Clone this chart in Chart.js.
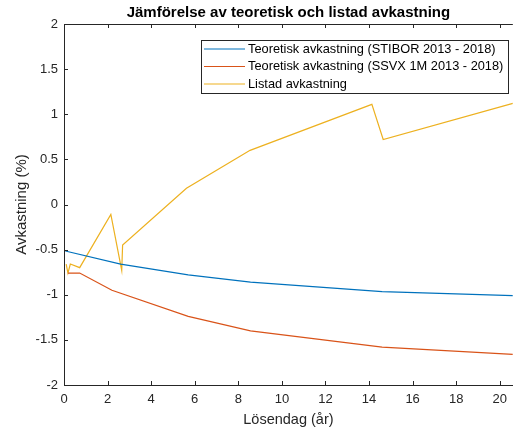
<!DOCTYPE html>
<html>
<head>
<meta charset="utf-8">
<script src="https://cdn.jsdelivr.net/npm/chart.js@4"></script>
<style>
  html, body { margin: 0; padding: 0; background: #fff; }
  #wrap { width: 514px; height: 431px; }
</style>
</head>
<body>
<div id="wrap"><canvas id="chart" width="514" height="431"></canvas></div>
<script>
// data (x = lösendag i år, y = avkastning i %)
const stiborX = [0.06, 2.6, 5.7, 8.56, 14.6, 20.6];
const stiborY = [-0.515, -0.66, -0.78, -0.86, -0.966, -1.01];

const ssvxX = [0.18, 0.72, 2.2, 5.7, 8.56, 14.6, 20.6];
const ssvxY = [-0.76, -0.76, -0.95, -1.24, -1.40, -1.58, -1.66];

const listadX = [0.1, 0.18, 0.29, 0.72, 2.15, 2.65, 2.69, 5.62, 8.54, 14.13, 14.65, 20.6];
const listadY = [-0.66, -0.76, -0.66, -0.70, -0.11, -0.73, -0.45, 0.18, 0.60, 1.11, 0.72, 1.12];

const seriesNames = [
    'Teoretisk avkastning (STIBOR 2013 - 2018)',
    'Teoretisk avkastning (SSVX 1M 2013 - 2018)',
    'Listad avkastning'
];
const seriesColors = ['#0072BD', '#D95319', '#EDB120'];

const xTicks = [0, 2, 4, 6, 8, 10, 12, 14, 16, 18, 20];
const yTicks = [-2, -1.5, -1, -0.5, 0, 0.5, 1, 1.5, 2];

const chartTitle = 'Jämförelse av teoretisk och listad avkastning';

const toPoints = (xs, ys) => xs.map((x, i) => ({ x: x, y: ys[i] }));

const axisColor = '#262626';
const fontFam = '"Liberation Sans", Arial, sans-serif';

// MATLAB-style box, inward ticks, title over the axes and legend
const matlabAxes = {
    id: 'matlabAxes',
    afterDatasetsDraw(chart) {
        const ctx = chart.ctx;
        const a = chart.chartArea;
        const xs = chart.scales.x;
        const ys = chart.scales.y;
        ctx.save();
        ctx.strokeStyle = axisColor;
        ctx.lineWidth = 1;
        ctx.beginPath();
        ctx.moveTo(a.left, a.top + 0.5);
        ctx.lineTo(a.right, a.top + 0.5);
        xTicks.forEach(v => {
            const px = Math.round(xs.getPixelForValue(v)) + 0.5;
            ctx.moveTo(px, a.bottom);
            ctx.lineTo(px, a.bottom - 4);
            ctx.moveTo(px, a.top);
            ctx.lineTo(px, a.top + 4);
        });
        yTicks.forEach(v => {
            const py = Math.round(ys.getPixelForValue(v)) + 0.5;
            ctx.moveTo(a.left, py);
            ctx.lineTo(a.left + 4, py);
        });
        ctx.stroke();

        // title centred over the plot box
        ctx.fillStyle = '#000';
        ctx.font = 'bold 15px ' + fontFam;
        ctx.textAlign = 'center';
        ctx.textBaseline = 'middle';
        ctx.fillText(chartTitle, (a.left + a.right) / 2, 13);

        // legend
        const bx = 201.5, by = 40.5, bw = 307, bh = 53;
        ctx.fillStyle = '#fff';
        ctx.fillRect(bx, by, bw, bh);
        ctx.strokeStyle = axisColor;
        ctx.strokeRect(bx, by, bw, bh);
        ctx.font = '12.8px ' + fontFam;
        ctx.textAlign = 'left';
        chart.data.datasets.forEach((ds, i) => {
            const ry = 49 + i * 17.5;
            ctx.strokeStyle = ds.borderColor;
            ctx.lineWidth = 1.2;
            ctx.beginPath();
            ctx.moveTo(204, ry);
            ctx.lineTo(245, ry);
            ctx.stroke();
            ctx.fillStyle = '#000';
            ctx.fillText(ds.label, 248, ry);
        });
        ctx.restore();
    }
};

new Chart(document.getElementById('chart'), {
    type: 'scatter',
    data: {
        datasets: [
            { label: seriesNames[0], data: toPoints(stiborX, stiborY) },
            { label: seriesNames[1], data: toPoints(ssvxX, ssvxY) },
            { label: seriesNames[2], data: toPoints(listadX, listadY) }
        ].map((ds, i) => Object.assign(ds, {
            showLine: true,
            borderColor: seriesColors[i],
            backgroundColor: seriesColors[i],
            borderWidth: 1.2,
            pointRadius: 0,
            tension: 0
        }))
    },
    options: {
        responsive: false,
        animation: false,
        layout: { padding: { left: 0, right: 0, top: 24, bottom: 0 } },
        plugins: {
            legend: { display: false },
            tooltip: { enabled: false },
            title: { display: false }
        },
        scales: {
            x: {
                type: 'linear',
                min: 0,
                max: 20.6,
                afterFit: s => { s.height = 46; },
                afterBuildTicks: s => { s.ticks = xTicks.map(v => ({ value: v })); },
                ticks: {
                    color: axisColor,
                    padding: 7,
                    maxRotation: 0,
                    font: { family: fontFam, size: 13 },
                    callback: v => String(v)
                },
                grid: { drawOnChartArea: false, drawTicks: false },
                border: { color: axisColor, width: 1 },
                title: {
                    display: true,
                    text: 'Lösendag (år)',
                    color: axisColor,
                    font: { family: fontFam, size: 14.5 },
                    padding: { top: 2, bottom: 2 }
                }
            },
            y: {
                type: 'linear',
                min: -2,
                max: 2,
                afterFit: s => { s.width = 64; },
                afterBuildTicks: s => { s.ticks = yTicks.map(v => ({ value: v })); },
                ticks: {
                    color: axisColor,
                    padding: 6,
                    font: { family: fontFam, size: 13 },
                    callback: v => String(v)
                },
                grid: { drawOnChartArea: false, drawTicks: false },
                border: { color: axisColor, width: 1 },
                title: {
                    display: true,
                    text: 'Avkastning (%)',
                    color: axisColor,
                    font: { family: fontFam, size: 15 },
                    padding: { top: 13, bottom: 0 }
                }
            }
        }
    },
    plugins: [matlabAxes]
});
</script>
</body>
</html>
